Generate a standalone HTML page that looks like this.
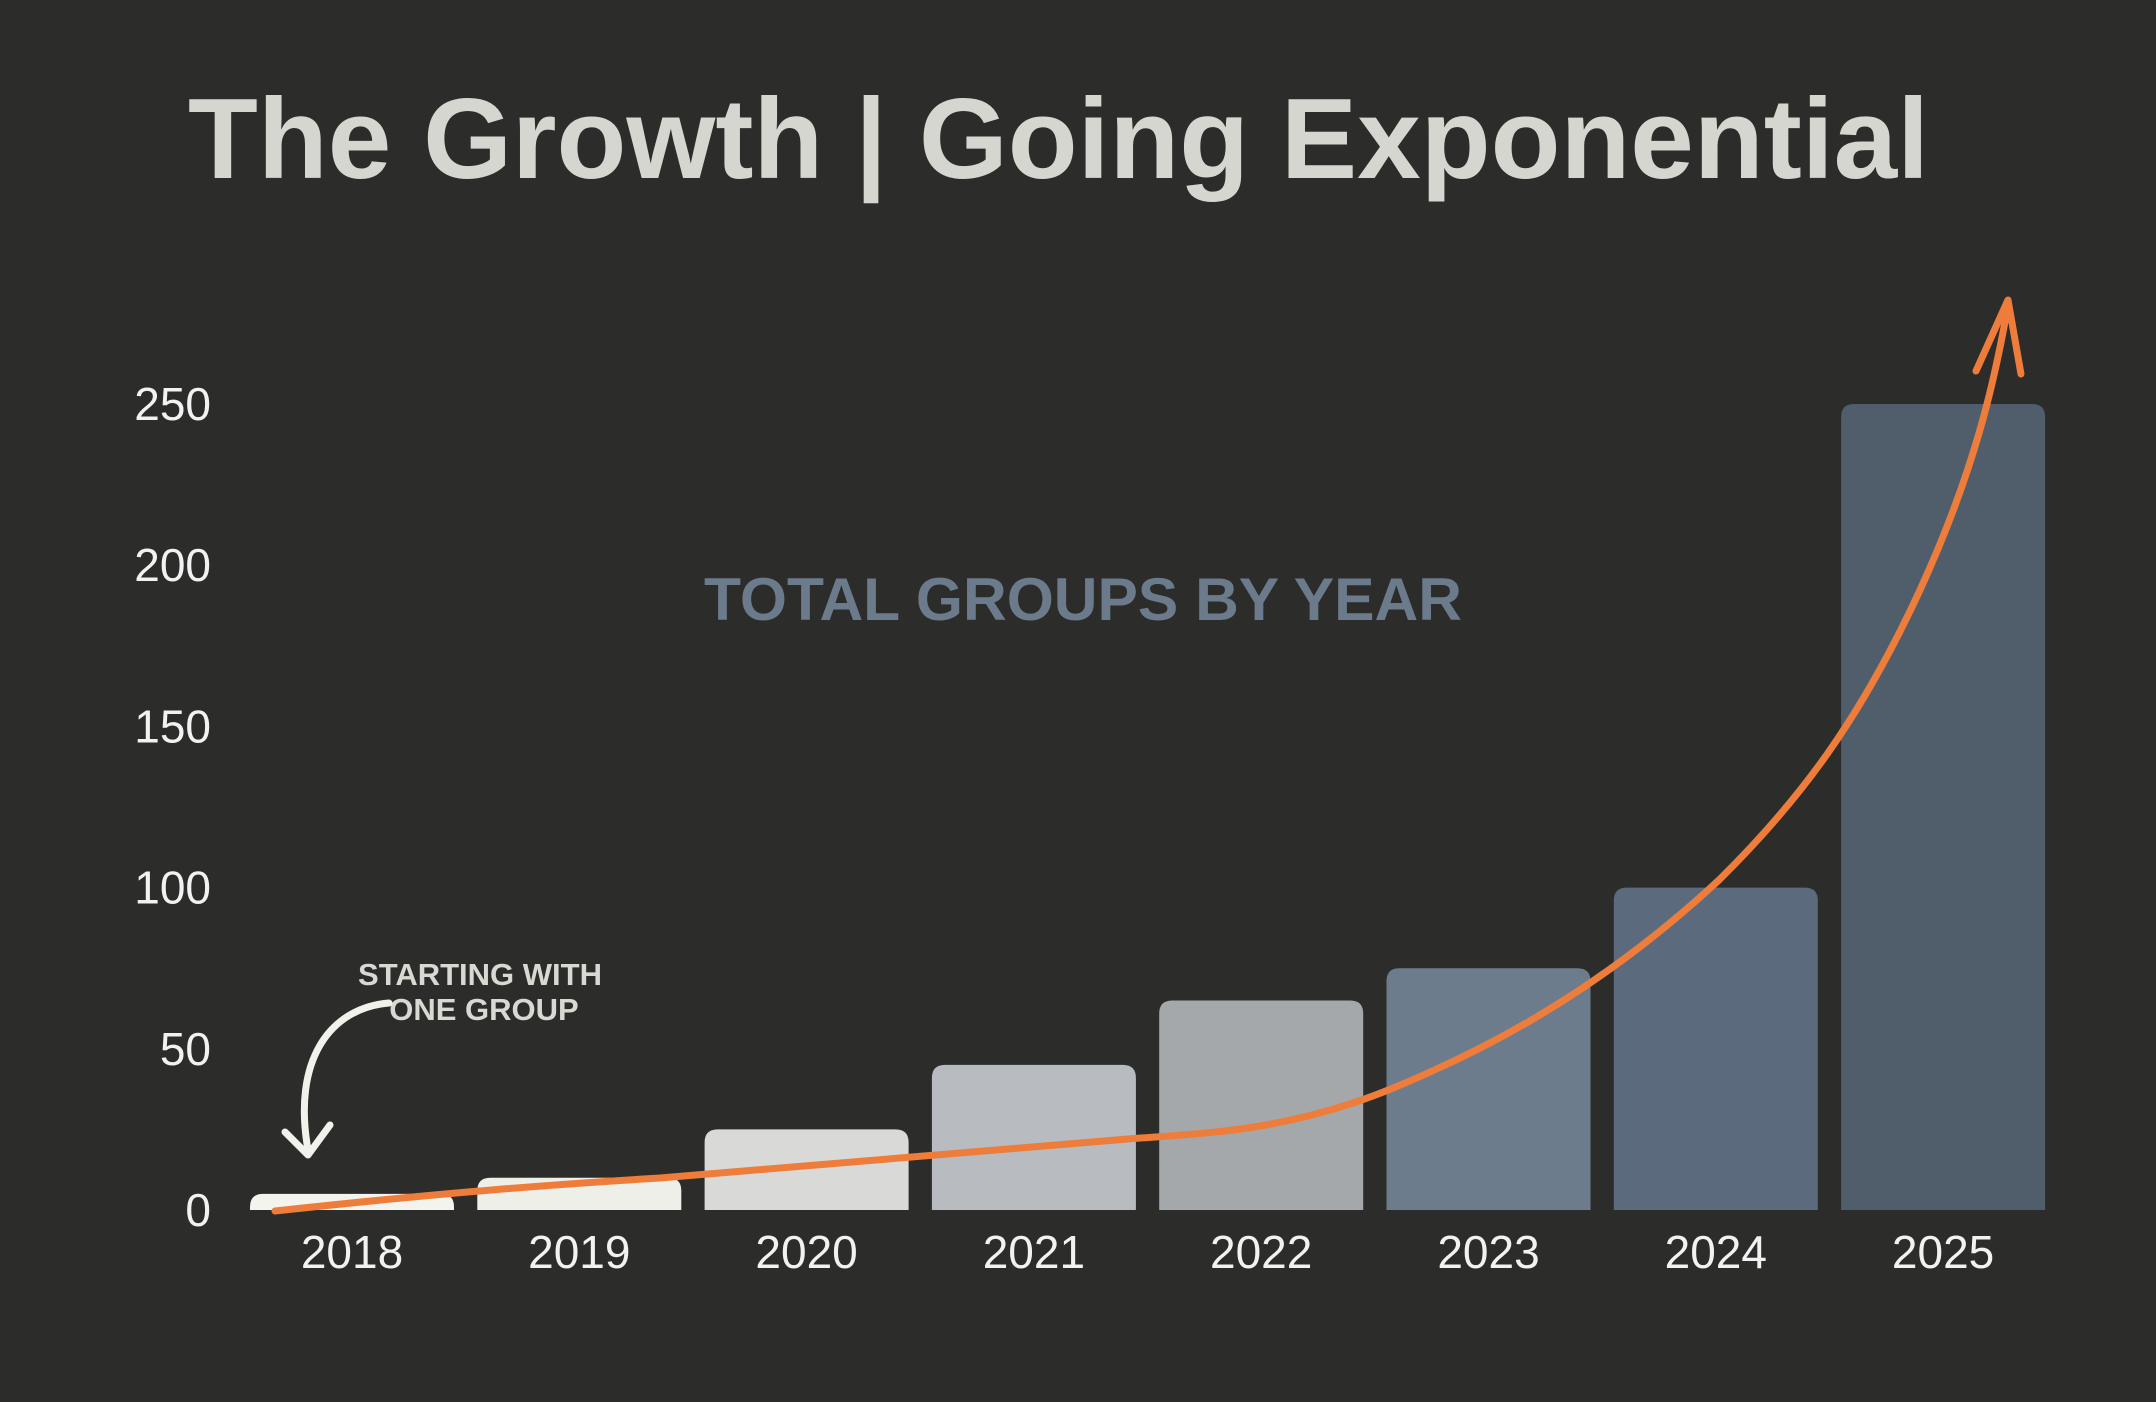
<!DOCTYPE html>
<html><head><meta charset="utf-8"><style>
html,body{margin:0;padding:0;background:#2c2c2a;}
svg{display:block;}
</style></head><body>
<svg id="chart" width="2156" height="1402" viewBox="0 0 2156 1402" xmlns="http://www.w3.org/2000/svg">
<rect width="2156" height="1402" fill="#2c2c2a"/>
<text x="188" y="178" textLength="1741" lengthAdjust="spacingAndGlyphs" font-family="Liberation Sans, sans-serif" font-weight="bold" font-size="114" fill="#d6d6d0">The Growth | Going Exponential</text>
<text x="704" y="620" textLength="758" lengthAdjust="spacingAndGlyphs" font-family="Liberation Sans, sans-serif" font-weight="bold" font-size="60" fill="#6b7b8c">TOTAL GROUPS BY YEAR</text>
<g id="yaxis"></g>
<g id="xaxis"></g>
<g id="bars"></g>
<g>
<text x="480" y="985" text-anchor="middle" font-family="Liberation Sans, sans-serif" font-weight="bold" font-size="31" fill="#d9d9d3">STARTING WITH</text>
<text x="484" y="1020" text-anchor="middle" font-family="Liberation Sans, sans-serif" font-weight="bold" font-size="31" fill="#d9d9d3">ONE GROUP</text>
<path d="M389,1003 C330,1008 292,1060 308,1150" fill="none" stroke="#f2f2ec" stroke-width="7" stroke-linecap="round"/>
<path d="M285,1132 L308,1155 L330,1125" fill="none" stroke="#f2f2ec" stroke-width="7" stroke-linecap="round" stroke-linejoin="round"/>
</g>
<g>
<path d="M275,1211 C450,1192 560,1184 660,1178 C860,1162 1000,1150 1128,1139 C1180,1135 1220,1133 1260,1126 C1330,1114 1380,1095 1430,1072 C1520,1032 1620,972 1719,880 C1800,800 1860,720 1920,590 C1975,470 1995,380 2008,305" fill="none" stroke="#ee7d3b" stroke-width="7" stroke-linecap="round"/>
<path d="M1976,371 L2008,300 L2021,374" fill="none" stroke="#ee7d3b" stroke-width="7" stroke-linecap="round" stroke-linejoin="round"/>
</g>
</svg>
<script>
const categories=["2018","2019","2020","2021","2022","2023","2024","2025"];
const values=[5,10,25,45,65,75,100,250];
const barColors=["#f4f4ef","#efefe9","#d9d9d8","#b8bbbf","#a4a8ab","#6c7c8d","#5b6b7d","#505e6c"];
const yTicks=[0,50,100,150,200,250];
const NS="http://www.w3.org/2000/svg";
const y0=1210, yPer=(1210-404)/250;
function yScale(v){return y0-v*yPer;}
const x0=250, pitch=227.3, bw=204;
function xScale(i){return x0+i*pitch;}
const ya=document.getElementById('yaxis'),xa=document.getElementById('xaxis'),bg=document.getElementById('bars');
yTicks.forEach(t=>{
 const el=document.createElementNS(NS,'text');
 el.setAttribute('x',211);el.setAttribute('y',yScale(t)+16);
 el.setAttribute('text-anchor','end');el.setAttribute('font-family','Liberation Sans, sans-serif');
 el.setAttribute('font-size','46');el.setAttribute('fill','#f2f2f2');
 
 
 el.textContent=t;ya.appendChild(el);
});
categories.forEach((c,i)=>{
 const x=xScale(i),y=yScale(values[i]),h=y0-y,r=Math.min(13,h);
 const p=document.createElementNS(NS,'path');
 p.setAttribute('d',`M${x},${y0} L${x},${y+r} Q${x},${y} ${x+r},${y} L${x+bw-r},${y} Q${x+bw},${y} ${x+bw},${y+r} L${x+bw},${y0} Z`);
 p.setAttribute('fill',barColors[i]);
 
 
 bg.appendChild(p);
 const el=document.createElementNS(NS,'text');
 el.setAttribute('x',x+bw/2);el.setAttribute('y',1268);
 el.setAttribute('text-anchor','middle');el.setAttribute('font-family','Liberation Sans, sans-serif');
 el.setAttribute('font-size','46');el.setAttribute('fill','#f2f2f2');
 
 
 el.textContent=c;xa.appendChild(el);
});
</script>
</body></html>
